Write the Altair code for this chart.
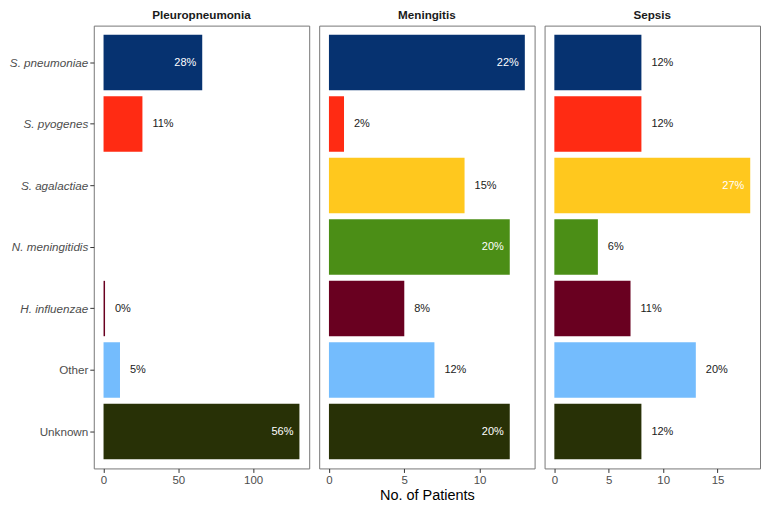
import altair as alt
import pandas as pd

pathogens = ["S. pneumoniae", "S. pyogenes", "S. agalactiae", "N. meningitidis",
             "H. influenzae", "Other", "Unknown"]
colors = ["#063270", "#FF2B13", "#FFC81E", "#4B8E16", "#690020", "#74BCFD", "#283106"]
diseases = ["Pleuropneumonia", "Meningitis", "Sepsis"]

pleuro_path = ["S. pneumoniae", "S. pyogenes", "H. influenzae", "Other", "Unknown"]
pleuro_n = [66, 26, 1, 11, 131]
men_path = pathogens
men_n = [13, 1, 9, 12, 5, 7, 12]
sep_path = pathogens
sep_n = [8, 8, 18, 4, 7, 13, 8]

rows = []
for d, paths, ns in [("Pleuropneumonia", pleuro_path, pleuro_n),
                     ("Meningitis", men_path, men_n),
                     ("Sepsis", sep_path, sep_n)]:
    tot = sum(ns)
    for p, n in zip(paths, ns):
        frac = n / tot
        rows.append({"disease": d, "pathogen": p, "n": n, "frac": frac,
                     "label": f"{round(100 * frac)}%"})
df = pd.DataFrame(rows)

label_style = {"condition": {"test": "datum.value == 'Other' || datum.value == 'Unknown'",
                             "value": "normal"},
               "value": "italic"}


def panel(disease, show_y, x_title):
    sub = df[df["disease"] == disease]
    if show_y:
        yax = alt.Axis(title=None, labelFontStyle=label_style, labelFontSize=11.7,
                       labelColor="#4D4D4D", tickColor="#333333", tickSize=4,
                       labelPadding=2, domain=False)
    else:
        yax = None
    y_enc = alt.Y("pathogen:N", sort=pathogens,
                  scale=alt.Scale(domain=pathogens, paddingInner=0.1, paddingOuter=0.15),
                  axis=yax)
    xax = alt.Axis(title=x_title, tickCount=3, labelFontSize=11.5, labelColor="#4D4D4D",
                   tickColor="#333333", tickSize=4, labelPadding=2, grid=False,
                   domain=False, labelFlush=False, titleFontSize=14.5,
                   titleFontWeight="normal", titleColor="#000000", titlePadding=3)
    x_enc = alt.X("n:Q", scale=alt.Scale(zero=True, nice=False, padding=9.8), axis=xax)
    bars = alt.Chart().mark_bar().encode(
        x=x_enc, y=y_enc,
        color=alt.Color("pathogen:N", scale=alt.Scale(domain=pathogens, range=colors),
                        legend=None),
    )
    inside = alt.Chart().mark_text(align="right", baseline="middle", dx=-6, fontSize=11,
                                   color="white").encode(
        x="n:Q", y=alt.Y("pathogen:N", sort=pathogens), text="label:N"
    ).transform_filter("datum.frac > 0.2")
    outside = alt.Chart().mark_text(align="left", baseline="middle", dx=10, fontSize=11,
                                    color="#1A1A1A").encode(
        x="n:Q", y=alt.Y("pathogen:N", sort=pathogens), text="label:N"
    ).transform_filter("datum.frac <= 0.2")
    return alt.layer(bars, inside, outside, data=sub).properties(
        width=216, height=444,
        title=alt.TitleParams(disease, fontWeight="bold", fontSize=11.7, color="#1A1A1A",
                              anchor="middle", offset=4),
    )


chart = alt.hconcat(
    panel("Pleuropneumonia", True, None),
    panel("Meningitis", False, "No. of Patients"),
    panel("Sepsis", False, None),
    spacing=8,
).properties(padding=0).configure(font="Liberation Sans").configure_view(
    stroke="#777777", strokeWidth=1
)

chart.save("out.html", embed_options={"renderer": "svg", "actions": False})
